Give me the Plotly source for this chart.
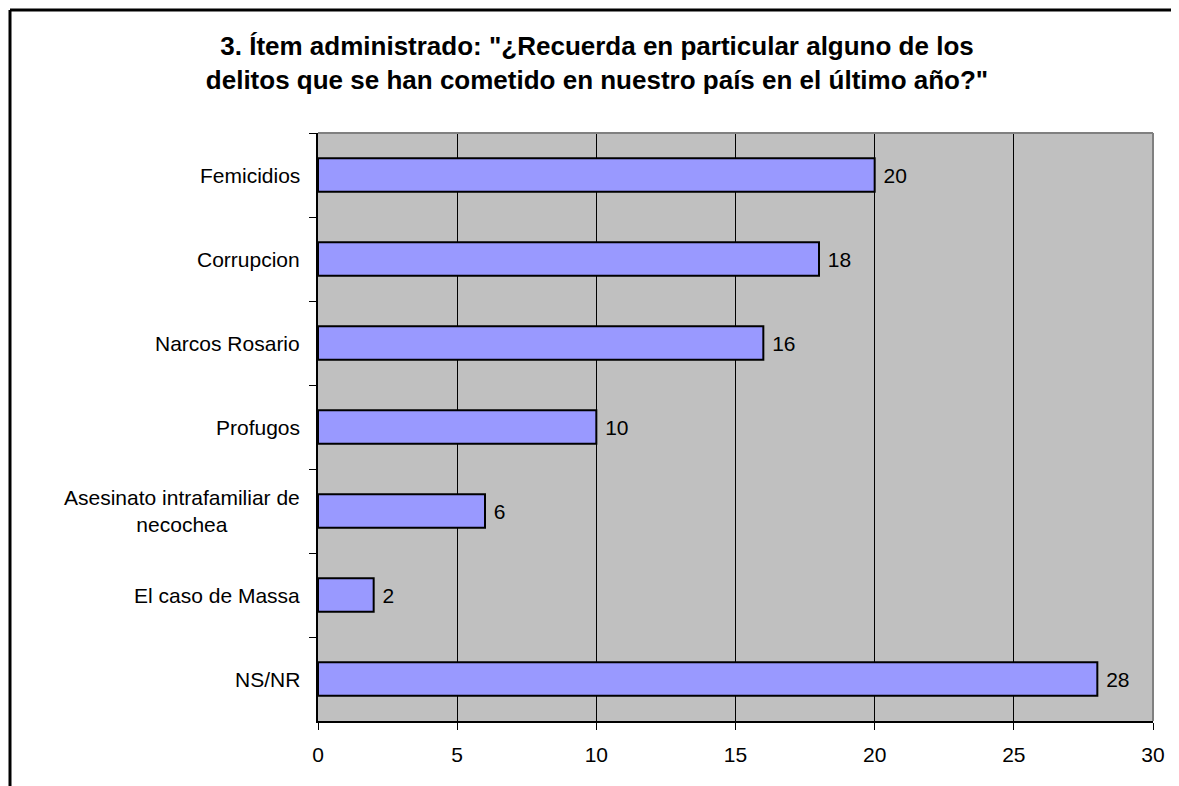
import plotly.graph_objects as go

categories = ["Femicidios", "Corrupcion", "Narcos Rosario", "Profugos",
              "Asesinato intrafamiliar de<br>necochea", "El caso de Massa", "NS/NR"]
values = [20, 18, 16, 10, 6, 2, 28]
x_ticks = [0, 5, 10, 15, 20, 25, 30]
title_text = ('3. Ítem administrado: "¿Recuerda en particular alguno de los<br>'
              'delitos que se han cometido en nuestro país en el último año?"')

FONT = "Liberation Sans, Arial, sans-serif"
W, H = 1171, 778

fig = go.Figure()
fig.add_trace(go.Bar(
    y=categories, x=values, orientation="h",
    marker=dict(color="#9999FF", line=dict(color="black", width=2)),
    text=[" " + str(v) for v in values], textposition="outside",
    textfont=dict(family=FONT, size=21, color="black"),
    cliponaxis=False, showlegend=False,
))

annotations = []
for c in categories:
    annotations.append(dict(
        x=0, xref="paper", y=c, yref="y", text=c, showarrow=False,
        xanchor="right", yanchor="middle", align="center", xshift=-16,
        font=dict(family=FONT, size=21, color="black"),
    ))

bx0 = (10 - 318) / 835
by1 = (721 - 10) / 588
shapes = [
    # gray plot-area border on top and right
    dict(type="line", xref="paper", yref="paper", x0=0, x1=1, y0=1, y1=1,
         line=dict(color="#808080", width=2), layer="above"),
    dict(type="line", xref="paper", yref="paper", x0=1, x1=1, y0=0, y1=1,
         line=dict(color="#808080", width=2), layer="above"),
    # outer chart border (top and left edges; the others lie outside the picture)
    dict(type="line", xref="paper", yref="paper", x0=bx0, x1=1.3, y0=by1, y1=by1,
         line=dict(color="black", width=3), layer="below"),
    dict(type="line", xref="paper", yref="paper", x0=bx0, x1=bx0, y0=-0.3, y1=by1,
         line=dict(color="black", width=3), layer="below"),
]

fig.update_layout(
    width=W, height=H,
    margin=dict(l=310, r=26, t=125, b=65),
    paper_bgcolor="white", plot_bgcolor="#C0C0C0",
    bargap=0.6,
    title=dict(text=title_text, x=589 / W, xanchor="center",
               y=1 - 47 / H, yanchor="top", yref="container",
               font=dict(family=FONT, size=26, color="black", weight="bold")),
    xaxis=dict(range=[0, 30], tickvals=x_ticks, ticktext=[str(t) for t in x_ticks],
               showgrid=True, gridcolor="black", gridwidth=1,
               zeroline=False, showline=True, linecolor="black", linewidth=1.5,
               ticks="outside", ticklen=7, tickcolor="black",
               ticklabelstandoff=7,
               tickfont=dict(family=FONT, size=21, color="black")),
    yaxis=dict(autorange="reversed", showticklabels=False, showgrid=False,
               zeroline=False, showline=True, linecolor="black", linewidth=1.5,
               ticks="outside", ticklen=7, tickcolor="black", tickson="boundaries"),
    annotations=annotations,
    shapes=shapes,
)

fig.write_html("out.html")
